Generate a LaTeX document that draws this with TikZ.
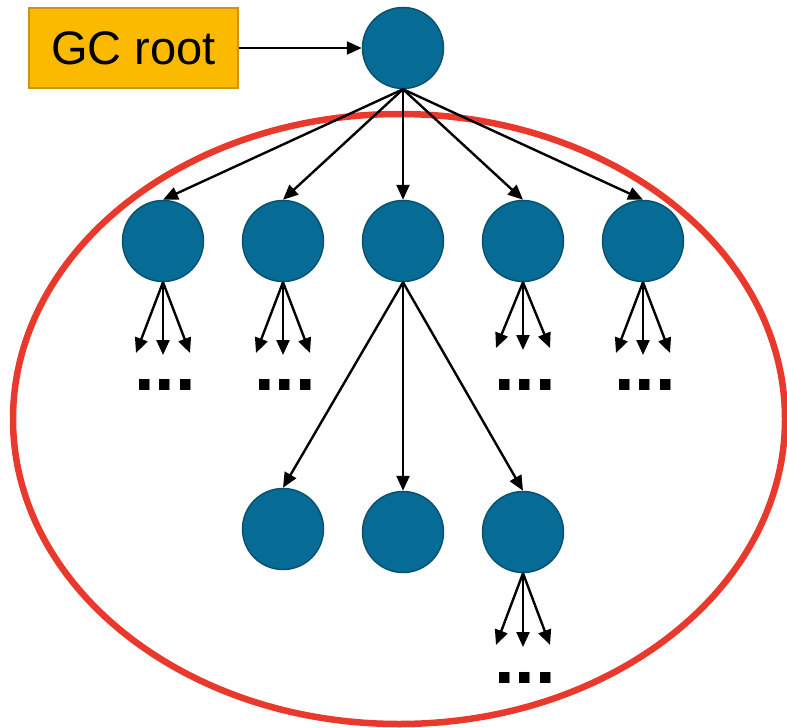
\documentclass[tikz,border=0pt]{standalone}
\usepackage{fontspec}
\setmainfont{Liberation Sans}
\usetikzlibrary{arrows.meta}
\definecolor{objfill}{RGB}{6,108,150}
\definecolor{objedge}{RGB}{10,80,112}
\definecolor{rootfill}{RGB}{251,186,0}
\definecolor{rootedge}{RGB}{200,150,20}
\definecolor{reach}{RGB}{232,57,44}
\tikzset{
  obj/.style={circle, fill=objfill, draw=objedge, line width=1.5pt, minimum size=81pt, inner sep=0pt},
  ref/.style={line width=2.4pt, -{Triangle[length=15pt,width=13pt]}},
  more/.style={font=\fontsize{74}{80}\selectfont\bfseries, inner sep=0pt, anchor=base},
}
\begin{document}
\begin{tikzpicture}[x=1pt,y=-1pt]
\useasboundingbox (0,0) rectangle (787,728);
% reachable set
\draw[reach, line width=6.5pt] (399,419) ellipse [x radius=386pt, y radius=305pt];
% root reference
\node[draw=rootedge, fill=rootfill, line width=1.5pt, minimum width=209pt, minimum height=80pt, inner sep=0pt,
      font=\fontsize{47}{56}\selectfont] (gc) at (133.5,48) {GC root};
\node[obj] (top) at (403,48) {};
\draw[ref] (gc.east) -- (top.west);
% first level
\foreach \i/\x in {1/163,2/283,3/403,4/523,5/643}{
  \node[obj] (c\i) at (\x,241) {};
  \draw[ref] (top.south) -- (c\i.north);
}
% second level
\node[obj] (b1) at (283,529) {};
\node[obj] (b2) at (403,532) {};
\node[obj] (b3) at (523,532) {};
\foreach \b in {b1,b2,b3}{\draw[ref] (c3.south) -- (\b.north);}
% fan-outs to further objects
\foreach \n/\x/\y/\d in {c1/163/353/390, c2/283/353/390, c4/523/348/390, c5/643/353/390, b3/523/645/683}{
  \coordinate (\n l) at (\x-27,\y);
  \coordinate (\n m) at (\x,\y+2);
  \coordinate (\n r) at (\x+27,\y);
  \draw[ref] (\n.south) -- (\n l);
  \draw[ref] (\n.south) -- (\n m);
  \draw[ref] (\n.south) -- (\n r);
  \node[more] (\n dots) at (\x+2,\d) {...};
}
\end{tikzpicture}
\end{document}
